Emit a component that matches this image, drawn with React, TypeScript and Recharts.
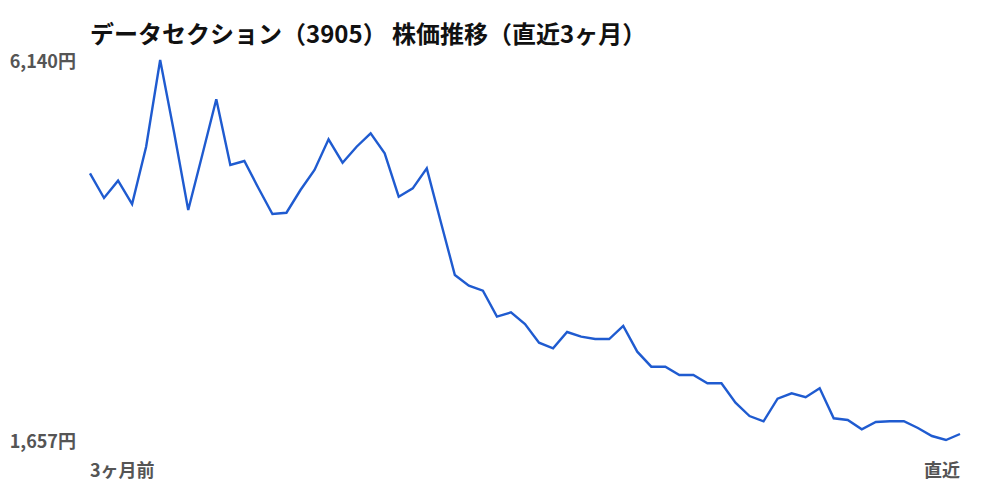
import { LineChart, Line, XAxis, YAxis } from "recharts";

const TITLE = "データセクション（3905） 株価推移（直近3ヶ月）";

// 直近3ヶ月の終値（円）
const PRICES = [
  4803, 4512, 4716, 4441, 5117, 6140, 5279, 4370, 5019, 5676,
  4901, 4948, 4630, 4323, 4338, 4606, 4842, 5204, 4928, 5117,
  5275, 5039, 4527, 4626, 4862, 4229, 3604, 3477, 3418, 3112,
  3163, 3025, 2805, 2739, 2931, 2876, 2848, 2848, 3002, 2699,
  2522, 2522, 2424, 2424, 2326, 2326, 2097, 1940, 1878, 2144,
  2208, 2161, 2267, 1913, 1893, 1783, 1869, 1878, 1878, 1799,
  1704, 1657, 1728,
];

const X_LABELS = ["3ヶ月前", "直近"];
const MIN_PRICE = Math.min(...PRICES);
const MAX_PRICE = Math.max(...PRICES);

const chartData = PRICES.map((price, i) => ({ day: i, price }));
const LAST = PRICES.length - 1;

const FONT = '"Noto Sans CJK JP", "Noto Sans", sans-serif';
const LABEL_COLOR = "#555555";

const YTick = ({ x, y, payload }: any) => (
  <text
    x={x}
    y={y}
    dy={8}
    textAnchor="end"
    fill={LABEL_COLOR}
    fontSize={18}
    fontWeight={700}
    fontFamily={FONT}
  >
    {payload.value.toLocaleString("ja-JP")}円
  </text>
);

const XTick = ({ x, y, payload }: any) => (
  <text
    x={x}
    y={y}
    dy={29}
    textAnchor={payload.value === 0 ? "start" : "end"}
    fill={LABEL_COLOR}
    fontSize={18}
    fontWeight={700}
    fontFamily={FONT}
  >
    {payload.value === 0 ? X_LABELS[0] : X_LABELS[1]}
  </text>
);

export default function App() {
  return (
    <div style={{ position: "absolute", left: 0, top: 0, width: 1000, height: 500, background: "#fff" }}>
      <div
        style={{
          position: "absolute",
          left: 90,
          top: 16,
          fontFamily: FONT,
          fontSize: 24,
          fontWeight: 700,
          color: "#111",
          lineHeight: "34px",
          whiteSpace: "nowrap",
        }}
      >
        {TITLE}
      </div>
      <LineChart
        width={1000}
        height={500}
        data={chartData}
        margin={{ top: 60, right: 40, bottom: 0, left: 0 }}
      >
        <XAxis
          dataKey="day"
          type="number"
          domain={[0, LAST]}
          ticks={[0, LAST]}
          axisLine={false}
          tickLine={false}
          tick={<XTick />}
          height={60}
        />
        <YAxis
          type="number"
          domain={[MIN_PRICE, MAX_PRICE]}
          ticks={[MIN_PRICE, MAX_PRICE]}
          axisLine={false}
          tickLine={false}
          tickMargin={8}
          tick={<YTick />}
          width={90}
        />
        <Line
          type="linear"
          dataKey="price"
          stroke="#1f5bd0"
          strokeWidth={2.4}
          dot={false}
          isAnimationActive={false}
        />
      </LineChart>
    </div>
  );
}
